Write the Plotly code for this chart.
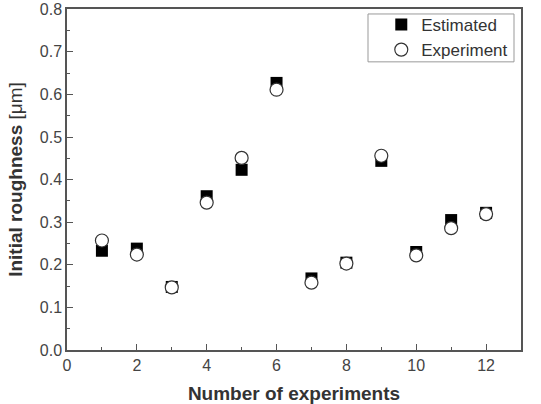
import plotly.graph_objects as go

experiments = [1, 2, 3, 4, 5, 6, 7, 8, 9, 10, 11, 12]
estimated = [0.233, 0.238, 0.148, 0.361, 0.423, 0.627, 0.168, 0.205, 0.444, 0.230, 0.305, 0.322]
experiment = [0.257, 0.224, 0.147, 0.346, 0.451, 0.611, 0.158, 0.203, 0.456, 0.222, 0.286, 0.319]

x_ticks = [0, 2, 4, 6, 8, 10, 12]
y_ticks = [0.0, 0.1, 0.2, 0.3, 0.4, 0.5, 0.6, 0.7, 0.8]

fig = go.Figure()
fig.add_trace(go.Scatter(
    x=experiments, y=estimated, mode="markers", name="Estimated",
    marker=dict(symbol="square", size=12, color="black", line=dict(width=0)),
))
fig.add_trace(go.Scatter(
    x=experiments, y=experiment, mode="markers", name="Experiment",
    marker=dict(symbol="circle", size=13, color="white", line=dict(width=1.2, color="#333")),
))

axis_common = dict(
    showline=True, linecolor="#555", linewidth=1.5, mirror=True,
    showgrid=False, zeroline=False,
    ticks="inside", ticklen=6, tickwidth=1.2, tickcolor="#555",
    tickfont=dict(family="Liberation Sans, Arial", size=16, color="#444"),
    ticklabeloverflow="allow",
)

fig.update_layout(
    width=541, height=404,
    margin=dict(l=67, r=20, t=8, b=54),
    paper_bgcolor="white", plot_bgcolor="white",
    showlegend=True,
    legend=dict(
        x=0.983, y=1.003, xanchor="right", yanchor="top",
        borderwidth=0, bgcolor="rgba(0,0,0,0)",
        font=dict(family="Liberation Sans, Arial", size=17, color="#333"),
        itemwidth=30, tracegroupgap=0,
    ),
    shapes=[dict(
        type="rect", xref="paper", yref="paper",
        x0=0.663, x1=0.9846, y0=0.845, y1=0.9854,
        line=dict(color="#999", width=1), fillcolor="rgba(0,0,0,0)", layer="below",
    )],
    xaxis=dict(
        range=[0, 13], tickvals=x_ticks, ticktext=[str(v) for v in x_ticks],
        minor=dict(ticks="inside", ticklen=3, tickwidth=1.2, tickcolor="#555", dtick=1),
        title=dict(text="<b>Number of experiments</b>", standoff=16,
                   font=dict(family="Liberation Sans, Arial", size=19, color="#333")),
        automargin=False,
        **axis_common,
    ),
    yaxis=dict(
        range=[0, 0.8005], tickvals=y_ticks, ticktext=[f"{v:.1f}" for v in y_ticks],
        minor=dict(ticks="inside", ticklen=3, tickwidth=1.2, tickcolor="#555", dtick=0.05),
        title=dict(text="<b>Initial roughness </b>[μm]", standoff=12,
                   font=dict(family="Liberation Sans, Arial", size=19, color="#333")),
        automargin=False,
        **axis_common,
    ),
)

fig.write_html("out.html")
